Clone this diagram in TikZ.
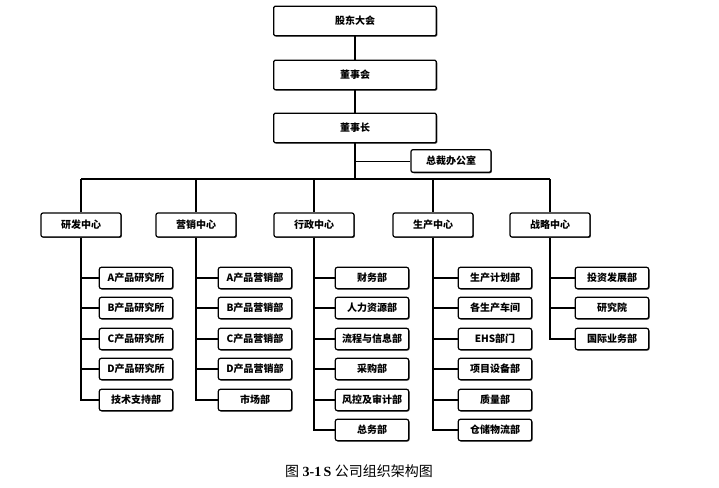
\documentclass[tikz,border=0pt]{standalone}
\usepackage{fontspec}
\setmainfont{Liberation Serif}
\newfontfamily\cjk{Noto Sans CJK SC}
\usetikzlibrary{shadows}

\tikzset{every picture/.style={line width=0.75pt}}
\tikzset{
	boxshadow/.style={drop shadow={shadow xshift=0.7pt,shadow yshift=-0.7pt,fill=black!75,opacity=1}},
	topbox/.style={draw,fill=white,line width=0.9pt,rounded corners=1pt,boxshadow,minimum width=122pt,minimum height=22pt,inner sep=0.75pt,font=\cjk\bfseries\fontsize{7.5}{9}\selectfont},
	officebox/.style={draw,fill=white,line width=0.9pt,rounded corners=1.5pt,boxshadow,minimum width=60pt,minimum height=17pt,inner sep=0.75pt,font=\cjk\bfseries\fontsize{7.5}{9}\selectfont},
	centerbox/.style={draw,fill=white,line width=0.9pt,rounded corners=1.5pt,boxshadow,minimum width=60pt,minimum height=18pt,inner sep=0.75pt,font=\cjk\bfseries\fontsize{7.5}{9}\selectfont},
	deptbox/.style={draw,fill=white,line width=0.9pt,rounded corners=1.5pt,boxshadow,minimum width=55pt,minimum height=16pt,inner sep=0.75pt,font=\cjk\bfseries\fontsize{7.5}{9}\selectfont},
	spine/.style={line width=1.5pt},
	branch/.style={line width=1.1pt},
}

\begin{document}
\begin{tikzpicture}[x=0.75pt,y=0.75pt,yscale=-1,xscale=1]
	\useasboundingbox (0,0) rectangle (719,487);
	
	% Top level
	\node [topbox] (gudong) at (355,21) {股东大会};
	\node [topbox] (dongshihui) at (355,75) {董事会};
	\node [topbox] (dongshizhang) at (355,128) {董事长};
	\node [officebox] (zongcai) at (451,161) {总裁办公室};
	
	% Centers
	\node [centerbox] (yanfa) at (81,225) {研发中心};
	\node [centerbox] (yingxiao) at (196,225) {营销中心};
	\node [centerbox] (xingzheng) at (314,225) {行政中心};
	\node [centerbox] (shengchan) at (433,225) {生产中心};
	\node [centerbox] (zhanlue) at (550,225) {战略中心};
	
	% R&D departments
	\node [deptbox] (yfA) at (136,278) {A产品研究所};
	\node [deptbox] (yfB) at (136,308) {B产品研究所};
	\node [deptbox] (yfC) at (136,339) {C产品研究所};
	\node [deptbox] (yfD) at (136,369) {D产品研究所};
	\node [deptbox] (yfE) at (136,400) {技术支持部};
	
	% Marketing departments
	\node [deptbox] (yxA) at (255,278) {A产品营销部};
	\node [deptbox] (yxB) at (255,308) {B产品营销部};
	\node [deptbox] (yxC) at (255,339) {C产品营销部};
	\node [deptbox] (yxD) at (255,369) {D产品营销部};
	\node [deptbox] (yxE) at (255,400) {市场部};
	
	% Administration departments
	\node [deptbox] (xzA) at (372,278) {财务部};
	\node [deptbox] (xzB) at (372,308) {人力资源部};
	\node [deptbox] (xzC) at (372,339) {流程与信息部};
	\node [deptbox] (xzD) at (372,369) {采购部};
	\node [deptbox] (xzE) at (372,400) {风控及审计部};
	\node [deptbox] (xzF) at (372,430) {总务部};
	
	% Production departments
	\node [deptbox] (scA) at (495,278) {生产计划部};
	\node [deptbox] (scB) at (495,308) {各生产车间};
	\node [deptbox] (scC) at (495,339) {EHS部门};
	\node [deptbox] (scD) at (495,369) {项目设备部};
	\node [deptbox] (scE) at (495,400) {质量部};
	\node [deptbox] (scF) at (495,430) {仓储物流部};
	
	% Strategy departments
	\node [deptbox] (zlA) at (612,278) {投资发展部};
	\node [deptbox] (zlB) at (612,308) {研究院};
	\node [deptbox] (zlC) at (612,339) {国际业务部};
	
	% Spine and bus
	\coordinate (busL) at (81,179);
	\coordinate (busR) at (550,179);
	\draw [spine] (gudong) -- (dongshihui);
	\draw [spine] (dongshihui) -- (dongshizhang);
	\draw [spine] (dongshizhang.south) -- (dongshizhang.south |- busL);
	\draw [line width=0.75pt] (dongshizhang.south |- zongcai.west) -- (zongcai.west);
	\draw [spine] (busL) -- (busR);
	\draw [branch] (busL) -- (yanfa.north);
	\draw [branch] (yingxiao.north |- busL) -- (yingxiao.north);
	\draw [branch] (xingzheng.north |- busL) -- (xingzheng.north);
	\draw [branch] (shengchan.north |- busL) -- (shengchan.north);
	\draw [branch] (busR) -- (zhanlue.north);
	
	% R&D links
	\draw [branch] (yanfa.south) |- (yfE.west);
	\draw [branch] (yanfa.south |- yfA.west) -- (yfA.west);
	\draw [branch] (yanfa.south |- yfB.west) -- (yfB.west);
	\draw [branch] (yanfa.south |- yfC.west) -- (yfC.west);
	\draw [branch] (yanfa.south |- yfD.west) -- (yfD.west);
	
	% Marketing links
	\draw [branch] (yingxiao.south) |- (yxE.west);
	\draw [branch] (yingxiao.south |- yxA.west) -- (yxA.west);
	\draw [branch] (yingxiao.south |- yxB.west) -- (yxB.west);
	\draw [branch] (yingxiao.south |- yxC.west) -- (yxC.west);
	\draw [branch] (yingxiao.south |- yxD.west) -- (yxD.west);
	
	% Administration links
	\draw [branch] (xingzheng.south) |- (xzF.west);
	\draw [branch] (xingzheng.south |- xzA.west) -- (xzA.west);
	\draw [branch] (xingzheng.south |- xzB.west) -- (xzB.west);
	\draw [branch] (xingzheng.south |- xzC.west) -- (xzC.west);
	\draw [branch] (xingzheng.south |- xzD.west) -- (xzD.west);
	\draw [branch] (xingzheng.south |- xzE.west) -- (xzE.west);
	
	% Production links
	\draw [branch] (shengchan.south) |- (scF.west);
	\draw [branch] (shengchan.south |- scA.west) -- (scA.west);
	\draw [branch] (shengchan.south |- scB.west) -- (scB.west);
	\draw [branch] (shengchan.south |- scC.west) -- (scC.west);
	\draw [branch] (shengchan.south |- scD.west) -- (scD.west);
	\draw [branch] (shengchan.south |- scE.west) -- (scE.west);
	
	% Strategy links
	\draw [branch] (zhanlue.south) |- (zlC.west);
	\draw [branch] (zhanlue.south |- zlA.west) -- (zlA.west);
	\draw [branch] (zhanlue.south |- zlB.west) -- (zlB.west);
	
	% Caption
	\node [font=\fontsize{10.5}{12}\selectfont] (caption) at (359,471) {{\cjk 图}\ \textbf{3-1\,S} {\cjk 公司组织架构图}};
	
\end{tikzpicture}
\end{document}
